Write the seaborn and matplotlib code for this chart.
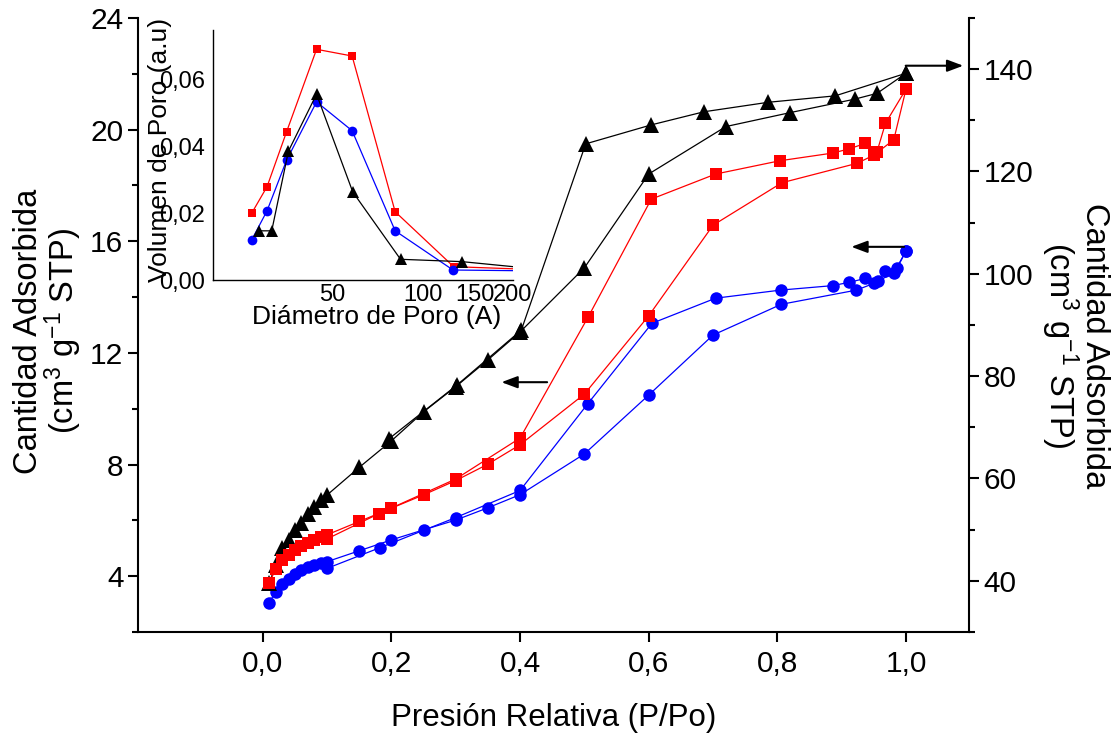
import numpy as np
import pandas as pd
import matplotlib
matplotlib.use("Agg")
import matplotlib.pyplot as plt
from matplotlib.ticker import MultipleLocator, FixedLocator, NullFormatter, FuncFormatter, LogLocator
import seaborn as sns

# ---------------- isotherm data (P/Po vs adsorbed amount) ----------------
# black triangles (left axis)
tri_ads_p = [0.01, 0.02, 0.03, 0.04, 0.05, 0.06, 0.07, 0.08, 0.09, 0.10,
             0.15, 0.20, 0.25, 0.30, 0.35, 0.40, 0.50, 0.60, 0.72, 0.82,
             0.92, 0.955, 1.00]
tri_ads_v = [3.75, 4.40, 5.00, 5.30, 5.66, 5.92, 6.22, 6.49, 6.73, 6.91,
             7.90, 8.85, 9.89, 10.79, 11.75, 12.75, 15.05, 18.41, 20.11, 20.61,
             21.09, 21.30, 22.02]
tri_des_p = [1.00, 0.89, 0.786, 0.686, 0.604, 0.502, 0.402, 0.302, 0.196]
tri_des_v = [22.02, 21.21, 20.98, 20.64, 20.17, 19.49, 12.82, 10.85, 8.92]

# red squares (right axis)
sq_ads_p = [0.01, 0.02, 0.03, 0.04, 0.05, 0.06, 0.07, 0.08, 0.09, 0.10,
            0.15, 0.20, 0.25, 0.30, 0.35, 0.40, 0.50, 0.60, 0.70, 0.807,
            0.924, 0.95, 0.981, 1.00]
sq_ads_v = [39.6, 42.3, 44.1, 45.05, 46.0, 46.8, 47.4, 48.0, 48.6, 49.0,
            51.6, 54.2, 56.8, 59.6, 62.8, 66.6, 76.5, 91.8, 109.5, 117.8,
            121.6, 123.2, 126.2, 136.1]
sq_des_p = [1.00, 0.968, 0.955, 0.937, 0.911, 0.886, 0.804, 0.704, 0.604,
            0.506, 0.40, 0.30, 0.18, 0.10]
sq_des_v = [136.1, 129.4, 123.9, 125.5, 124.4, 123.6, 122.1, 119.5, 114.6,
            91.6, 67.9, 59.9, 53.1, 48.2]

# blue circles (left axis)
ci_ads_p = [0.01, 0.02, 0.03, 0.04, 0.05, 0.06, 0.07, 0.08, 0.09, 0.10,
            0.15, 0.20, 0.25, 0.30, 0.35, 0.40, 0.50, 0.60, 0.70, 0.806,
            0.923, 0.95, 0.981, 1.00]
ci_ads_v = [3.05, 3.45, 3.72, 3.90, 4.08, 4.22, 4.32, 4.40, 4.48, 4.52,
            4.91, 5.30, 5.66, 6.01, 6.45, 6.92, 8.38, 10.49, 12.64, 13.74,
            14.25, 14.49, 14.87, 15.65]
ci_des_p = [1.00, 0.986, 0.968, 0.956, 0.937, 0.912, 0.886, 0.805, 0.704,
            0.605, 0.505, 0.40, 0.30, 0.182, 0.10]
ci_des_v = [15.65, 15.03, 14.95, 14.59, 14.67, 14.53, 14.41, 14.25, 13.96,
            13.06, 10.17, 7.07, 6.10, 5.02, 4.28]

# ---------------- pore size distribution (inset) ----------------
psd_sq_d = [26.9, 30.3, 35.2, 44.3, 58.2, 81.0, 126.9, 260.0]
psd_sq_v = [0.0199, 0.0279, 0.0443, 0.0689, 0.0669, 0.0204, 0.0040, 0.0030]
psd_ci_d = [26.9, 30.3, 35.2, 44.3, 58.2, 81.0, 126.3, 260.0]
psd_ci_v = [0.0119, 0.0207, 0.0358, 0.0532, 0.0446, 0.0147, 0.0030, 0.0027]
psd_tr_d = [28.4, 31.4, 35.7, 44.3, 58.5, 84.4, 135.3, 260.0]
psd_tr_v = [0.0147, 0.0147, 0.0385, 0.0555, 0.0263, 0.0062, 0.0055, 0.0030]

x_ticks = [0.0, 0.2, 0.4, 0.6, 0.8, 1.0]
left_ticks = [4, 8, 12, 16, 20, 24]
right_ticks = [40, 60, 80, 100, 120, 140]
inset_x_ticks = [50, 100, 150, 200]
inset_y_ticks = [0.00, 0.02, 0.04, 0.06]

sns.set_theme(style="white")
plt.rcParams["font.family"] = ["Liberation Sans", "DejaVu Sans"]
plt.rcParams["mathtext.default"] = "regular"
plt.rcParams["axes.linewidth"] = 1.5
for key in ("text.color", "axes.labelcolor", "xtick.color", "ytick.color",
            "axes.edgecolor"):
    plt.rcParams[key] = "black"

BLACK, RED, BLUE = "#000000", "#ff0000", "#0000ff"

fig = plt.figure(figsize=(11.15, 7.37), dpi=100)
ax = fig.add_axes([0.1238, 0.1425, 0.7453, 0.8331])
ax2 = ax.twinx()


def branch(axis, p, v, marker, color, ms):
    df = pd.DataFrame({"p": p, "v": v})
    sns.lineplot(data=df, x="p", y="v", ax=axis, sort=False, estimator=None,
                 color=color, marker=marker, markersize=ms, linewidth=0.9,
                 markeredgewidth=0, legend=False)


branch(ax, ci_ads_p, ci_ads_v, "o", BLUE, 9)
branch(ax, ci_des_p, ci_des_v, "o", BLUE, 9)
branch(ax, tri_ads_p, tri_ads_v, "^", BLACK, 11)
branch(ax, tri_des_p, tri_des_v, "^", BLACK, 11)
branch(ax2, sq_ads_p, sq_ads_v, "s", RED, 8)
branch(ax2, sq_des_p, sq_des_v, "s", RED, 8)

ax.set_xlim(-0.194, 1.098)
ax.set_ylim(2, 24)
ax2.set_ylim(30, 150)

comma = FuncFormatter(lambda v, _: f"{v:.1f}".replace(".", ","))
ax.xaxis.set_major_locator(FixedLocator(x_ticks))
ax.xaxis.set_major_formatter(comma)
ax.yaxis.set_major_locator(FixedLocator(left_ticks))
ax.yaxis.set_minor_locator(MultipleLocator(2))
ax2.yaxis.set_major_locator(FixedLocator(right_ticks))
ax2.yaxis.set_minor_locator(MultipleLocator(10))

for a in (ax, ax2):
    a.spines["top"].set_visible(False)
    a.set_xlabel("")
    a.set_ylabel("")
    a.tick_params(which="major", direction="out", length=7, width=1.5,
                  labelsize=21.5, colors="black")
    a.tick_params(which="minor", direction="out", length=4, width=1.5)
ax.tick_params(axis="y", which="both", left=True, right=False)
ax.tick_params(axis="x", which="major", bottom=True, pad=6)
ax2.tick_params(axis="y", which="both", right=True, left=False)
ax.spines["right"].set_visible(False)
ax2.spines["left"].set_visible(False)
ax2.spines["bottom"].set_visible(False)

ax.set_xlabel("Presión Relativa (P/Po)", fontsize=22.5)
ax.xaxis.set_label_coords(0.5, -0.115)
ax.set_ylabel("Cantidad Adsorbida\n(cm$^3$ g$^{-1}$ STP)", fontsize=23.5,
              linespacing=0.95)
ax.yaxis.set_label_coords(-0.108, 0.49)
ax.yaxis.label.set_va("center")
ax2.set_ylabel("Cantidad Adsorbida\n(cm$^3$ g$^{-1}$ STP)", fontsize=23.5,
               rotation=-90, linespacing=0.95)
ax2.yaxis.set_label_coords(1.127, 0.467)
ax2.yaxis.label.set_va("center")

# arrows pointing each curve to its axis
arrow = dict(arrowstyle="-|>,head_length=0.8,head_width=0.3", color="black",
             lw=1.5, shrinkA=0, shrinkB=0)
ax.annotate("", xy=(0.371, 10.95), xytext=(0.442, 10.95), arrowprops=arrow)
ax.annotate("", xy=(0.915, 15.8), xytext=(0.997, 15.8), arrowprops=arrow)
ax.annotate("", xy=(1.089, 22.29), xytext=(0.9995, 22.29), arrowprops=arrow)

# ---------------- inset: pore diameter distribution ----------------
axi = fig.add_axes([0.191, 0.620, 0.269, 0.339])
axi.set_facecolor("none")


def psd(p, v, marker, color, ms):
    df = pd.DataFrame({"d": p, "v": v})
    sns.lineplot(data=df, x="d", y="v", ax=axi, sort=False, estimator=None,
                 color=color, marker=marker, markersize=ms, linewidth=0.9,
                 markeredgewidth=0, legend=False)


psd(psd_sq_d, psd_sq_v, "s", RED, 6)
psd(psd_ci_d, psd_ci_v, "o", BLUE, 7)
psd(psd_tr_d, psd_tr_v, "^", BLACK, 8)

axi.set_xscale("log")
axi.set_xlim(20, 200)
axi.set_ylim(0, 0.0746)
axi.xaxis.set_major_locator(FixedLocator(inset_x_ticks))
axi.xaxis.set_major_formatter(FuncFormatter(lambda v, _: f"{v:.0f}"))
axi.xaxis.set_minor_locator(LogLocator(base=10, subs=np.arange(2, 10)))
axi.xaxis.set_minor_formatter(NullFormatter())
axi.yaxis.set_major_locator(FixedLocator(inset_y_ticks))
axi.yaxis.set_minor_locator(MultipleLocator(0.01))
axi.yaxis.set_major_formatter(FuncFormatter(lambda v, _: f"{v:.2f}".replace(".", ",")))
for s in ("top", "right"):
    axi.spines[s].set_visible(False)
for s in ("left", "bottom"):
    axi.spines[s].set_linewidth(1)
axi.tick_params(axis="y", which="major", direction="out", length=4, width=1,
                labelsize=17, pad=2)
axi.tick_params(axis="y", which="minor", direction="out", length=2.5, width=1)
axi.tick_params(axis="x", which="major", direction="in", length=4, width=1,
                labelsize=17, pad=3)
axi.tick_params(axis="x", which="minor", direction="in", length=2.5, width=1)
axi.set_xlabel("Diámetro de Poro (A)", fontsize=19, labelpad=0)
axi.set_ylabel("Volumen de Poro (a.u)", fontsize=19)
axi.xaxis.set_label_coords(0.547, -0.10)
axi.yaxis.set_label_coords(-0.177, 0.52)
axi.yaxis.label.set_va("center")

fig.savefig("out.png", dpi=100)
